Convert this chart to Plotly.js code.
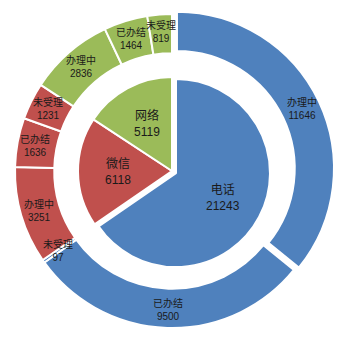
<!DOCTYPE html>
<html>
<head>
<meta charset="utf-8">
<script src="https://cdn.plot.ly/plotly-3.0.1.min.js"></script>
<style>html,body{margin:0;padding:0;background:#fff}#chart{width:363px;height:347px}</style>
</head>
<body>
<div id="chart"></div>
<script>
// Inner ring: channels
const channels = ['电话', '微信', '网络'];
const channelValues = [21243, 6118, 5119];
// Outer ring: status per channel
const statusNames = ['办理中', '已办结', '未受理', '办理中', '已办结', '未受理', '办理中', '已办结', '未受理'];
const statusParents = ['电话', '电话', '电话', '微信', '微信', '微信', '网络', '网络', '网络'];
const statusValues = [11646, 9500, 97, 3251, 1636, 1231, 2836, 1464, 819];

const channelColors = {'电话': '#4F81BD', '微信': '#C0504D', '网络': '#9BBB59'};

const W = 363, H = 347;
const CX = 172, CY = 171;          // pie centre in px (from top-left)
const R_OUT = 157, HOLE = 0.75;     // outer ring radius / hole fraction
const R_IN = 94;                    // inner pie radius
const OUT_PULL = 0.035, IN_PULL = 0.048;

const outerLabels = statusNames.map((s, i) => statusParents[i] + '-' + s);
const outerColors = statusParents.map(p => channelColors[p]);
const outerPull = statusNames.map((s, i) => (i === 0 ? OUT_PULL : 0));

const innerColors = channels.map(c => channelColors[c]);
const innerPull = channels.map((c, i) => (i === 0 ? IN_PULL : 0));

const font = 'Liberation Sans, Noto Sans CJK SC, sans-serif';

function halfSize(r, pull) { return r * (1 + pull); }
const ho = halfSize(R_OUT, OUT_PULL), hi = halfSize(R_IN, IN_PULL);
const domOut = {x: [(CX - ho) / W, (CX + ho) / W], y: [1 - (CY + ho) / H, 1 - (CY - ho) / H]};
const domIn = {x: [(CX - hi) / W, (CX + hi) / W], y: [1 - (CY + hi) / H, 1 - (CY - hi) / H]};

// label positions derived from the data (mid-angle of each slice)
function midAngles(vals) {
  const tot = vals.reduce((a, b) => a + b, 0);
  let cum = 0;
  return vals.map(v => { const m = (cum + v / 2) / tot * 360; cum += v; return m; });
}
function toPaper(angDeg, r) {
  const a = angDeg * Math.PI / 180;
  return {x: (CX + r * Math.sin(a)) / W, y: 1 - (CY - r * Math.cos(a)) / H};
}

const annotations = [];
const outMid = midAngles(statusValues);
const rRing = 139;
statusValues.forEach((v, i) => {
  const p = toPaper(outMid[i], rRing + outerPull[i] * R_OUT);
  annotations.push({x: p.x, y: p.y, xref: 'paper', yref: 'paper', showarrow: false,
    xanchor: 'center', yanchor: 'middle', text: statusNames[i] + '<br>' + v,
    font: {family: font, size: 10, color: '#1a1a1a'}});
});
const inMid = midAngles(channelValues);
channelValues.forEach((v, i) => {
  const p = toPaper(inMid[i], 0.57 * R_IN + innerPull[i] * R_IN);
  annotations.push({x: p.x, y: p.y, xref: 'paper', yref: 'paper', showarrow: false,
    xanchor: 'center', yanchor: 'middle', text: channels[i] + '<br>' + v,
    font: {family: font, size: 12, color: '#1a1a1a'}});
});

const data = [
  {
    type: 'pie',
    labels: outerLabels,
    values: statusValues,
    textinfo: 'none',
    hole: HOLE,
    sort: false,
    direction: 'clockwise',
    rotation: 0,
    pull: outerPull,
    marker: {colors: outerColors, line: {color: '#ffffff', width: 2}},
    domain: domOut,
    hoverinfo: 'none'
  },
  {
    type: 'pie',
    labels: channels,
    values: channelValues,
    textinfo: 'none',
    sort: false,
    direction: 'clockwise',
    rotation: 0,
    pull: innerPull,
    marker: {colors: innerColors, line: {color: '#ffffff', width: 2}},
    domain: domIn,
    hoverinfo: 'none'
  }
];

const layout = {
  width: W,
  height: H,
  margin: {l: 0, r: 0, t: 0, b: 0},
  showlegend: false,
  paper_bgcolor: '#ffffff',
  plot_bgcolor: '#ffffff',
  annotations: annotations
};

Plotly.newPlot('chart', data, layout, {displayModeBar: false, staticPlot: true});
</script>
</body>
</html>
